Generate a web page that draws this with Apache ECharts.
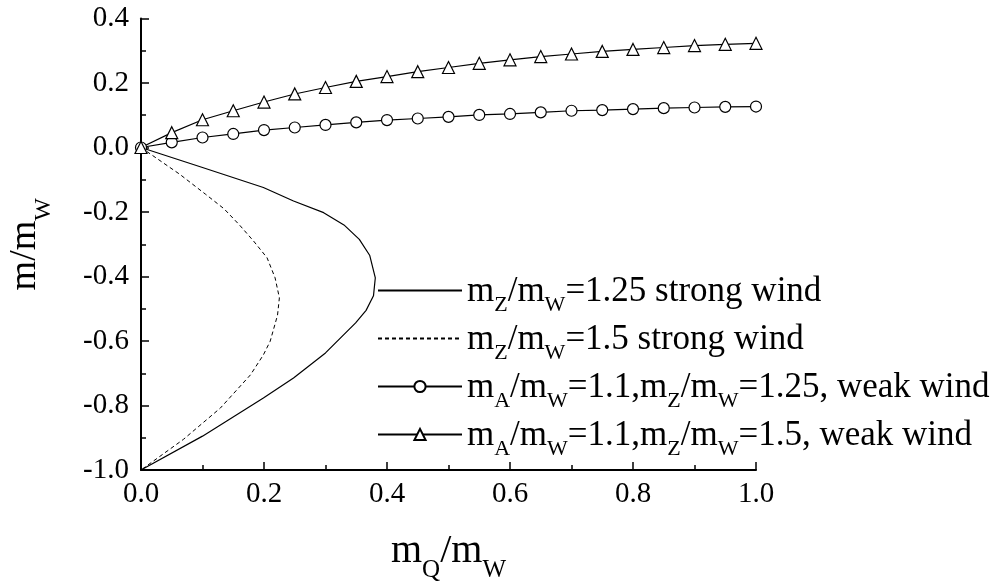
<!DOCTYPE html>
<html>
<head>
<meta charset="utf-8">
<script src="https://cdn.jsdelivr.net/npm/echarts@6/dist/echarts.min.js"></script>
<style>
html,body{margin:0;padding:0;background:#fff;}
#chart{width:998px;height:581px;}
</style>
</head>
<body>
<div id="chart"></div>
<script>
// ---- data ----
const weakX = [0, 0.05, 0.10, 0.15, 0.20, 0.25, 0.30, 0.35, 0.40, 0.45, 0.50, 0.55, 0.60, 0.65, 0.70, 0.75, 0.80, 0.85, 0.90, 0.95, 1.00];
const weak125Y = [0, 0.016, 0.031, 0.042, 0.054, 0.062, 0.070, 0.078, 0.085, 0.090, 0.095, 0.101, 0.104, 0.109, 0.114, 0.116, 0.119, 0.122, 0.124, 0.126, 0.127];
const weak15Y = [0, 0.046, 0.086, 0.114, 0.141, 0.166, 0.186, 0.205, 0.220, 0.235, 0.248, 0.261, 0.272, 0.282, 0.290, 0.298, 0.304, 0.310, 0.316, 0.320, 0.323];

const strong125X = [0, 0.100, 0.199, 0.248, 0.297, 0.330, 0.355, 0.372, 0.381, 0.378, 0.366, 0.349, 0.300, 0.248, 0.199, 0.100, 0];
const strong125Y = [0, -0.062, -0.124, -0.166, -0.202, -0.240, -0.285, -0.335, -0.404, -0.460, -0.505, -0.544, -0.637, -0.715, -0.777, -0.895, -1.0];

const strong15X = [0, 0.063, 0.105, 0.135, 0.160, 0.183, 0.205, 0.218, 0.225, 0.222, 0.210, 0.199, 0.178, 0.129, 0.069, 0];
const strong15Y = [0, -0.083, -0.145, -0.190, -0.240, -0.290, -0.342, -0.404, -0.466, -0.520, -0.601, -0.643, -0.705, -0.808, -0.905, -1.0];

const seriesNames = ['mZ/mW=1.25 strong wind', 'mZ/mW=1.5 strong wind', 'mA/mW=1.1,mZ/mW=1.25, weak wind', 'mA/mW=1.1,mZ/mW=1.5, weak wind'];
const legendRich = [
  '{m|m}{s|Z}{m|/m}{s|W}{m|=1.25 strong wind}',
  '{m|m}{s|Z}{m|/m}{s|W}{m|=1.5 strong wind}',
  '{m|m}{s|A}{m|/m}{s|W}{m|=1.1,m}{s|Z}{m|/m}{s|W}{m|=1.25, weak wind}',
  '{m|m}{s|A}{m|/m}{s|W}{m|=1.1,m}{s|Z}{m|/m}{s|W}{m|=1.5, weak wind}'
];
const xTicks = {min: 0, max: 1, interval: 0.2};
const yTicks = {min: -1, max: 0.4, interval: 0.2};

function pairs(xs, ys) { return xs.map((x, i) => [x, ys[i]]); }

const FONT = '"Liberation Serif","Times New Roman",serif';
const chart = echarts.init(document.getElementById('chart'), null, {renderer: 'canvas'});

const axisCommon = {
  axisLine: {show: true, onZero: false, lineStyle: {color: '#000', width: 2}},
  axisTick: {show: true, inside: true, length: 8, lineStyle: {color: '#000', width: 1.5}},
  minorTick: {show: true, splitNumber: 2, length: 5, lineStyle: {color: '#000', width: 1.5}},
  splitLine: {show: false},
  axisLabel: {color: '#000', fontFamily: FONT, fontSize: 29, formatter: v => v.toFixed(1)}
};

const option = {
  animation: false,
  backgroundColor: '#fff',
  grid: {left: 141, right: 242, top: 18.5, bottom: 111, containLabel: false, outerBoundsMode: 'none'},
  xAxis: Object.assign({}, axisCommon, {
    type: 'value', min: xTicks.min, max: xTicks.max, interval: xTicks.interval,
    axisLabel: Object.assign({}, axisCommon.axisLabel, {margin: 10}),
    name: '{m|m}{s|Q}{m|/m}{s|W}',
    nameLocation: 'middle', nameGap: 61,
    nameTextStyle: {
      rich: {
        m: {fontFamily: FONT, fontSize: 40, color: '#000', verticalAlign: 'top'},
        s: {fontFamily: FONT, fontSize: 25, color: '#000', verticalAlign: 'top', padding: [27, 0, 0, 0]}
      }
    }
  }),
  yAxis: Object.assign({}, axisCommon, {
    type: 'value', min: yTicks.min, max: yTicks.max, interval: yTicks.interval,
    axisLabel: Object.assign({}, axisCommon.axisLabel, {margin: 12}),
    name: '{m|m/m}{s|W}',
    nameLocation: 'middle', nameGap: 85, nameRotate: 90,
    nameTextStyle: {
      rich: {
        m: {fontFamily: FONT, fontSize: 38, color: '#000', verticalAlign: 'top'},
        s: {fontFamily: FONT, fontSize: 24, color: '#000', verticalAlign: 'top', padding: [26, 0, 0, 0]}
      }
    }
  }),
  legend: {
    orient: 'vertical', left: 377, top: 274, padding: 0,
    itemWidth: 84, itemHeight: 14, itemGap: 6,
    selectedMode: false,
    data: [
      {name: seriesNames[0], itemStyle: {opacity: 0}},
      {name: seriesNames[1], itemStyle: {opacity: 0}},
      {name: seriesNames[2]},
      {name: seriesNames[3]}
    ],
    formatter: function (name) { return legendRich[seriesNames.indexOf(name)]; },
    textStyle: {
      color: '#000',
      rich: {
        m: {fontFamily: FONT, fontSize: 35, color: '#000', verticalAlign: 'top', padding: [9, 0, 0, 0]},
        s: {fontFamily: FONT, fontSize: 22, color: '#000', verticalAlign: 'top', padding: [29, 0, 0, 0]}
      }
    }
  },
  series: [
    {
      name: seriesNames[0], type: 'line', data: pairs(strong125X, strong125Y),
      symbol: 'none', showSymbol: false, smooth: false,
      lineStyle: {color: '#000', width: 1.2, type: 'solid'},
      itemStyle: {color: '#000'}
    },
    {
      name: seriesNames[1], type: 'line', data: pairs(strong15X, strong15Y),
      symbol: 'none', showSymbol: false, smooth: false,
      lineStyle: {color: '#000', width: 1, type: [4, 3]},
      itemStyle: {color: '#000'}
    },
    {
      name: seriesNames[2], type: 'line', data: pairs(weakX, weak125Y),
      symbol: 'circle', symbolSize: 11, showSymbol: true,
      lineStyle: {color: '#000', width: 1.2},
      itemStyle: {color: '#fff', borderColor: '#000', borderWidth: 1.2}
    },
    {
      name: seriesNames[3], type: 'line', data: pairs(weakX, weak15Y),
      symbol: 'triangle', symbolSize: 12, showSymbol: true,
      lineStyle: {color: '#000', width: 1.2},
      itemStyle: {color: '#fff', borderColor: '#000', borderWidth: 1.2}
    }
  ]
};
chart.setOption(option);
</script>
</body>
</html>
